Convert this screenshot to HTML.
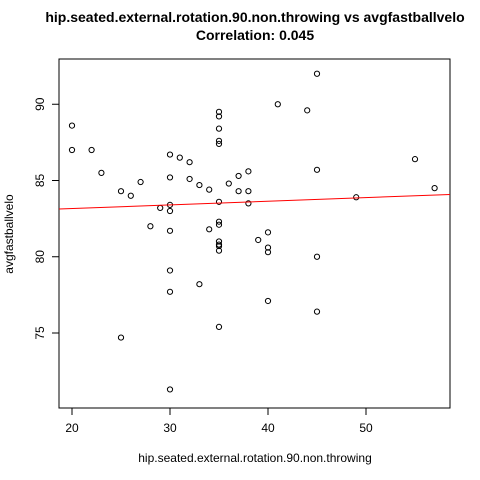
<!DOCTYPE html>
<html><head><meta charset="utf-8"><style>body{margin:0;background:#fff}svg{display:block;font-family:"Liberation Sans",sans-serif}</style></head>
<body>
<svg id="c" width="480" height="480">
<text x="255" y="22" text-anchor="middle" font-weight="bold" font-size="14">hip.seated.external.rotation.90.non.throwing vs avgfastballvelo</text>
<text x="255" y="40" text-anchor="middle" font-weight="bold" font-size="14">Correlation: 0.045</text>
<text x="255" y="462" text-anchor="middle" font-size="12">hip.seated.external.rotation.90.non.throwing</text>
<text transform="translate(13,234) rotate(-90)" text-anchor="middle" font-size="12">avgfastballvelo</text>
<rect x="59" y="59" width="391" height="349" fill="none" stroke="#000"/>
<g id="g"></g>
</svg>
<script>
const xs=[20,20,22,23,25,25,26,27,28,29,30,30,30,30,30,30,30,30,31,32,32,33,33,34,34,35,35,35,35,35,35,35,35,35,35,35,35,35,36,37,37,38,38,38,39,40,40,40,40,41,44,45,45,45,45,49,55,57];
const ys=[88.6,87.0,87.0,85.5,84.3,74.7,84.0,84.9,82.0,83.2,86.7,85.2,83.4,83.0,81.7,79.1,77.7,71.3,86.5,86.2,85.1,84.7,78.2,84.4,81.8,89.5,89.2,88.4,87.6,87.4,83.6,82.3,82.1,81.0,80.7,80.4,80.8,75.4,84.8,85.3,84.3,85.6,84.3,83.5,81.1,81.6,80.6,80.3,77.1,90.0,89.6,92.0,85.7,80.0,76.4,83.9,86.4,84.5];
const xTicks=[20,30,40,50];
const yTicks=[75,80,85,90];
const fitIntercept=82.68, fitSlope=0.024;
const X=v=>72+(v-20)*9.8, Y=v=>333-(v-75)*15.25;
const ns="http://www.w3.org/2000/svg", g=document.getElementById('g');
function mk(t,a){const e=document.createElementNS(ns,t);for(const k in a)e.setAttribute(k,a[k]);g.appendChild(e);return e;}
xTicks.forEach(t=>{
 const l=mk('line',{x1:X(t),x2:X(t),y1:408,y2:415,stroke:'#000'});
 
 
 const tx=mk('text',{x:X(t),y:432,'text-anchor':'middle','font-size':12});tx.textContent=t;
 
 
});
yTicks.forEach(t=>{
 const l=mk('line',{x1:52,x2:59,y1:Y(t),y2:Y(t),stroke:'#000'});
 
 
 const tx=mk('text',{transform:`translate(44,${Y(t)}) rotate(-90)`,'text-anchor':'middle','font-size':12});tx.textContent=t;
 
 
});
xs.forEach((x,i)=>{
 const c=mk('circle',{cx:X(x),cy:Y(ys[i]),r:2.6,fill:'none',stroke:'#000'});
 
 
});
const x0=20-13/9.8, x1=20+378/9.8;
const fl=mk('line',{x1:X(x0),x2:X(x1),y1:Y(fitIntercept+fitSlope*x0),y2:Y(fitIntercept+fitSlope*x1),stroke:'red','stroke-width':1});


</script>
</body></html>
